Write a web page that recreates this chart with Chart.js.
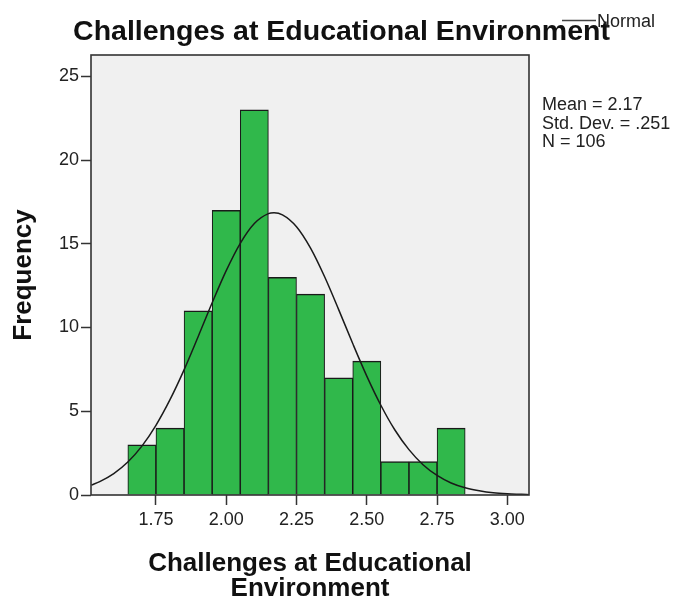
<!DOCTYPE html>
<html><head><meta charset="utf-8">
<script src="https://cdn.jsdelivr.net/npm/chart.js@4.4.1/dist/chart.umd.min.js"></script>
<style>html,body{margin:0;padding:0;background:#fff;}</style>
</head><body>
<canvas id="c" width="683" height="601"></canvas>
<script>
// ---- data ----
const TITLE = 'Challenges at Educational Environment';
const X_TITLE = ['Challenges at Educational', 'Environment'];
const Y_TITLE = 'Frequency';
const BIN_CENTERS = [1.70, 1.80, 1.90, 2.00, 2.10, 2.20, 2.30, 2.40, 2.50, 2.60, 2.70, 2.80];
const FREQUENCIES = [3, 4, 11, 17, 23, 13, 12, 7, 8, 2, 2, 4];
// normal curve overlay
const CURVE_X = [1.52, 1.55, 1.60, 1.65, 1.70, 1.75, 1.80, 1.85, 1.90, 1.95, 2.00, 2.05, 2.10, 2.15, 2.17, 2.20, 2.25, 2.30, 2.35, 2.40, 2.45, 2.50, 2.55, 2.60, 2.65, 2.70, 2.75, 2.80, 2.85, 2.90, 2.95, 3.00, 3.05, 3.08];
const CURVE_Y = [0.59, 0.80, 1.28, 1.97, 2.92, 4.16, 5.69, 7.47, 9.45, 11.48, 13.40, 15.03, 16.21, 16.80, 16.85, 16.73, 16.02, 14.74, 13.03, 11.07, 9.04, 7.10, 5.36, 3.88, 2.71, 1.81, 1.17, 0.72, 0.43, 0.25, 0.13, 0.07, 0.04, 0.02];
const X_TICKS = [1.75, 2.00, 2.25, 2.50, 2.75, 3.00];
const Y_TICKS = [0, 5, 10, 15, 20, 25];
const STATS = ['Mean = 2.17', 'Std. Dev. = .251', 'N = 106'];
const LEGEND_LABEL = 'Normal';

const FONT = "'Liberation Sans', Arial, sans-serif";
const DARK = '#333333';

const framePlugin = {
  id: 'frame',
  beforeDraw(chart) {
    const {ctx, chartArea: a} = chart;
    ctx.save();
    ctx.fillStyle = '#f0f0f0';
    ctx.fillRect(a.left, a.top, a.right - a.left, a.bottom - a.top);
    ctx.restore();
  },
  afterDraw(chart) {
    const {ctx, chartArea: a} = chart;
    ctx.save();
    ctx.strokeStyle = DARK;
    ctx.lineWidth = 1.6;
    ctx.strokeRect(a.left, a.top, a.right - a.left, a.bottom - a.top);
    // legend
    ctx.strokeStyle = '#444';
    ctx.lineWidth = 1.5;
    ctx.beginPath();
    ctx.moveTo(562, 20.5);
    ctx.lineTo(596, 20.5);
    ctx.stroke();
    ctx.fillStyle = '#222';
    ctx.font = '18px ' + FONT;
    ctx.textAlign = 'left';
    ctx.textBaseline = 'alphabetic';
    ctx.fillText(LEGEND_LABEL, 597, 27);
    // statistics
    ctx.font = '18px ' + FONT;
    STATS.forEach((s, i) => ctx.fillText(s, 542, 110 + i * 18.6));
    ctx.restore();
  }
};

new Chart(document.getElementById('c'), {
  data: {
    datasets: [
      {
        type: 'line',
        data: CURVE_X.map((x, i) => ({x, y: CURVE_Y[i]})),
        borderColor: '#1a1a1a',
        borderWidth: 1.5,
        pointRadius: 0,
        cubicInterpolationMode: 'monotone',
        fill: false,
        order: 0
      },
      {
        type: 'bar',
        data: BIN_CENTERS.map((x, i) => ({x, y: FREQUENCIES[i]})),
        backgroundColor: '#30b84b',
        borderColor: '#1a1a1a',
        borderWidth: {top: 1.6, left: 1.1, right: 1.1, bottom: 0},
        borderSkipped: false,
        barPercentage: 1,
        categoryPercentage: 1,
        order: 1
      }
    ]
  },
  options: {
    responsive: false,
    animation: false,
    devicePixelRatio: 1,
    layout: {padding: 0},
    plugins: {
      legend: {display: false},
      tooltip: {enabled: false},
      title: {
        display: true,
        text: TITLE,
        color: '#111',
        font: {family: FONT, size: 28.5, weight: 'bold', lineHeight: 1.2},
        padding: {top: 15, bottom: 5.8}
      }
    },
    scales: {
      x: {
        type: 'linear',
        offset: false,
        min: 1.519,
        max: 3.077,
        afterBuildTicks(s) { s.ticks = X_TICKS.map(v => ({value: v})); },
        afterFit(s) { s.height = 106; },
        grid: {display: true, offset: false, drawOnChartArea: false, drawTicks: true, tickLength: 10, tickColor: DARK, tickWidth: 1.5},
        border: {display: false},
        ticks: {
          color: '#222', padding: 4, maxRotation: 0, autoSkip: false,
          font: {family: FONT, size: 18},
          callback: v => Number(v).toFixed(2)
        },
        title: {
          display: true, text: X_TITLE, color: '#111',
          font: {family: FONT, size: 26, weight: 'bold', lineHeight: 0.96},
          padding: {top: 0, bottom: 0}
        }
      },
      y: {
        type: 'linear',
        position: 'left',
        min: 0,
        max: 26.27,
        afterBuildTicks(s) { s.ticks = Y_TICKS.map(v => ({value: v})); },
        afterFit(s) { s.width = 91; },
        grid: {display: true, drawOnChartArea: false, drawTicks: true, tickLength: 10, tickColor: DARK, tickWidth: 1.5},
        border: {display: false},
        ticks: {color: '#222', padding: 2, font: {family: FONT, size: 18}, callback: v => String(v)},
        title: {
          display: true, text: Y_TITLE, color: '#111',
          font: {family: FONT, size: 26, weight: 'bold', lineHeight: 1.0},
          padding: {top: 11, bottom: 0}
        }
      },
      yR: {
        type: 'linear',
        position: 'right',
        display: true,
        grid: {display: false, drawTicks: false},
        border: {display: false},
        ticks: {display: false},
        afterFit(s) { s.width = 154; }
      }
    }
  },
  plugins: [framePlugin]
});
</script>
</body></html>
